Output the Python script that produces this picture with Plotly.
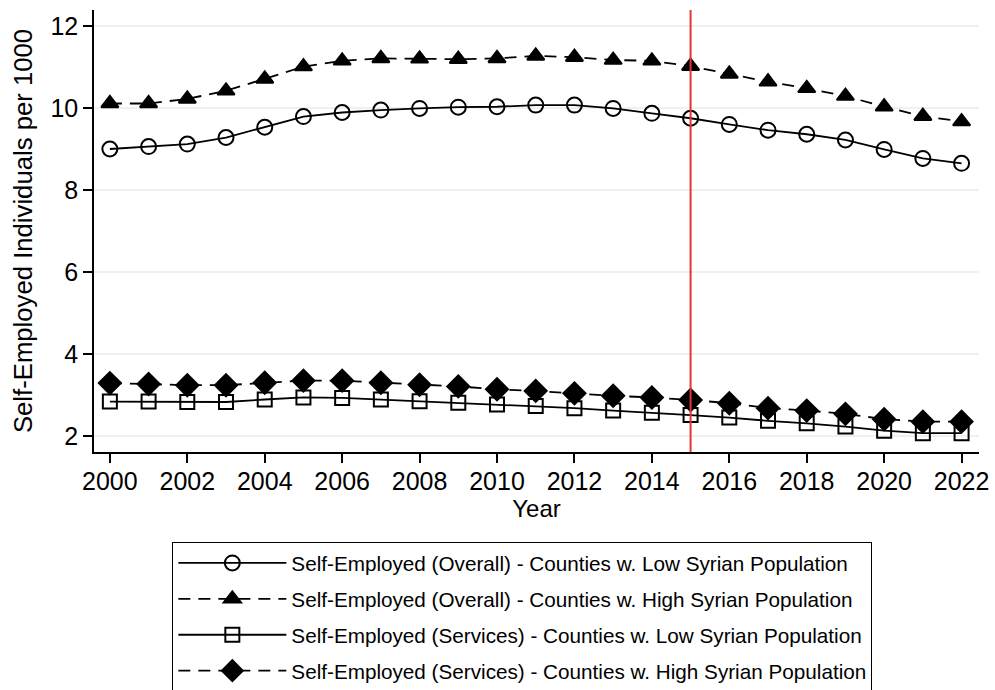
import plotly.graph_objects as go

years = list(range(2000, 2023))

overall_low = [9.00, 9.06, 9.12, 9.28, 9.53, 9.79, 9.89, 9.95, 9.99, 10.02, 10.03, 10.07,
               10.07, 9.99, 9.87, 9.75, 9.60, 9.46, 9.36, 9.22, 8.99, 8.77, 8.65]
overall_high = [10.11, 10.11, 10.22, 10.42, 10.71, 11.01, 11.15, 11.21, 11.20, 11.19, 11.21, 11.27,
                11.24, 11.17, 11.15, 11.02, 10.83, 10.64, 10.48, 10.29, 10.03, 9.80, 9.67]
services_low = [2.84, 2.84, 2.83, 2.83, 2.89, 2.94, 2.93, 2.89, 2.85, 2.81, 2.77, 2.73,
                2.68, 2.62, 2.57, 2.51, 2.45, 2.37, 2.31, 2.23, 2.13, 2.07, 2.07]
services_high = [3.29, 3.27, 3.24, 3.24, 3.30, 3.35, 3.35, 3.30, 3.25, 3.21, 3.14, 3.10,
                 3.04, 2.98, 2.94, 2.88, 2.80, 2.68, 2.62, 2.54, 2.41, 2.35, 2.35]

names = [
    "Self-Employed (Overall) - Counties w. Low Syrian Population",
    "Self-Employed (Overall) - Counties w. High Syrian Population",
    "Self-Employed (Services) - Counties w. Low Syrian Population",
    "Self-Employed (Services) - Counties w. High Syrian Population",
]
event_year = 2015
x_ticks = list(range(2000, 2023, 2))
y_ticks = [2, 4, 6, 8, 10, 12]

FONT = "Liberation Sans, Arial, Helvetica, sans-serif"

styles = [
    dict(dash="solid", symbol="circle-open", size=15),
    dict(dash="12px,8px", symbol="triangle-up", size=15),
    dict(dash="solid", symbol="square-open", size=14),
    dict(dash="12px,8px", symbol="diamond", size=17),
]
series = [overall_low, overall_high, services_low, services_high]

fig = go.Figure()
for i, (vals, name, st) in enumerate(zip(series, names, styles)):
    fig.add_trace(go.Scatter(
        x=years, y=vals, name=name, mode="lines+markers", legendgroup=f"g{i}",
        line=dict(color="black", width=1.8, dash=st["dash"]),
        marker=dict(symbol=st["symbol"], size=st["size"], color="black",
                    line=dict(color="black", width=2)),
    ))

fig.add_shape(type="line", xref="x", yref="paper", x0=event_year, x1=event_year,
              y0=0, y1=1, line=dict(color="#e8332e", width=2), layer="above")

fig.update_layout(
    width=995, height=690,
    margin=dict(l=94, r=16, t=10, b=238, autoexpand=False),
    paper_bgcolor="white", plot_bgcolor="white",
    font=dict(family=FONT, color="black", size=20),
    showlegend=True,
    legend=dict(
        x=0.484, xanchor="center", y=-0.2036, yanchor="top",
        bordercolor="black", borderwidth=1,
        font=dict(size=20.7, family=FONT, color="black"),
        itemwidth=108, tracegroupgap=6,
        bgcolor="white",
    ),
)
fig.update_xaxes(
    range=[1999.59, 2022.45], tickvals=x_ticks, ticks="outside", ticklen=9,
    tickwidth=1.5, tickcolor="black", showline=True, linecolor="black", linewidth=1.5,
    showgrid=False, zeroline=False, tickfont=dict(size=25), ticklabelstandoff=-3,
    title=dict(text="Year", font=dict(size=24), standoff=0),
)
fig.update_yaxes(
    range=[1.61, 12.39], tickvals=y_ticks, ticks="outside", ticklen=9,
    tickwidth=1.5, tickcolor="black", showline=True, linecolor="black", linewidth=1.5,
    showgrid=True, gridcolor="#eaf2f3", gridwidth=1.5, zeroline=False,
    tickfont=dict(size=25),
    title=dict(text="Self-Employed Individuals per 1000", font=dict(size=25.7), standoff=10),
)

fig.write_html("out.html")
